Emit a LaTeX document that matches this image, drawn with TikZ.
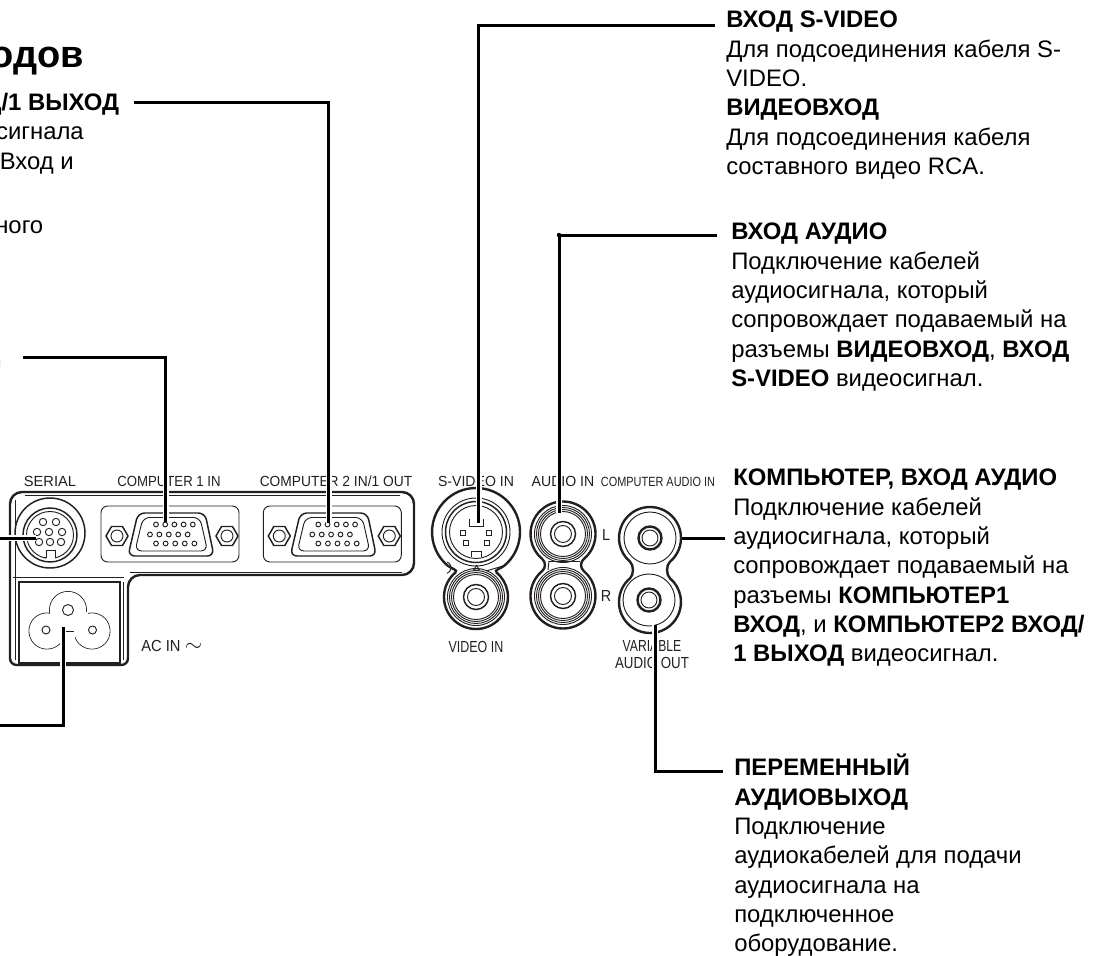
\documentclass[tikz,border=0pt]{standalone}
\usepackage{fontspec}
\setmainfont{Liberation Sans}
\definecolor{ink}{HTML}{231F20}
\tikzset{
  conn/.style={line width=2.25pt,black,preaction={draw=white,line width=4.5pt}},
  body/.style={anchor=north west,inner sep=0pt,align=left,font=\fontsize{17.9}{22}\selectfont},
  cut/.style={anchor=base east,inner sep=0pt,font=\fontsize{17.9}{22}\selectfont},
  lbl/.style={anchor=base,inner sep=0pt,text=ink,font=\fontsize{11}{12}\selectfont},
  big/.style={anchor=base,inner sep=0pt,text=ink,font=\fontsize{12}{12}\selectfont},
  thin/.style={line width=0.7pt,ink},
  med/.style={line width=1.1pt,ink},
  heavy/.style={line width=1.8pt,ink}
}
% x, y1, r1, y2, r2, k : two joined round lobes
\newcommand{\blob}[6]{%
  \draw[heavy] ({#1+#3*.643},{#2+#3*.766}) arc[start angle=50,end angle=-230,radius=#3]
   .. controls ({#1-#3*.643+#6*.766},{#2+#3*.766+#6*.643}) and ({#1-#5*.643+#6*.766},{#4-#5*.766-#6*.643}) ..
   ({#1-#5*.643},{#4-#5*.766}) arc[start angle=230,end angle=-50,radius=#5]
   .. controls ({#1+#5*.643-#6*.766},{#4-#5*.766-#6*.643}) and ({#1+#3*.643-#6*.766},{#2+#3*.766+#6*.643}) ..
   cycle;}
\newcommand{\rca}[2]{%
  \foreach \r in {28.5,26.5,24.5,22.5} \draw[thin] (#1,#2) circle[radius=\r];
  \draw[med] (#1,#2) circle[radius=12.5];
  \draw[thin] (#1,#2) circle[radius=8.5];}
\newcommand{\mini}[2]{%
  \draw[thin] (#1,#2) circle[radius=26];
  \draw[heavy] (#1,#2) circle[radius=11.5];
  \draw[thin] (#1,#2) circle[radius=8];}
\begin{document}
\begin{tikzpicture}[x=0.75pt,y=-0.75pt]
\useasboundingbox (0,0) rectangle (1096,956);
\clip (0,0) rectangle (1096,956);

% ---------- device panel
\draw[heavy] (10,640) [rounded corners=5pt] -- (10,665) -- (128,665) [rounded corners=9pt] -- (128,575)
  -- (414,575) -- (414,492) -- (10,492) -- (10,640);
\draw[thin] (15,500) -- (15,660);
\draw[thin] (123,582) -- (123,660);
\draw[thin] (13,577) -- (124,577);
\draw[heavy] (19,582) -- (120,582) -- (120,663) -- (19,663) -- cycle;
\draw[thin] (130,572) -- (402,572);
\draw[thin] (25,495) -- (400,495);

% serial
\draw[med] (50,533) circle[radius=35];
\draw[med] (50,535) circle[radius=27];
\draw[thin] (50,535) circle[radius=23.5];
\fill[white] (45.5,550) rectangle (55,560);
\draw[thin] (44,557) -- (46,557) -- (46,550) -- (55,550) -- (55,557) -- (57,557);
\foreach \x/\y in {43/522,56/522,37/532,49/532,62/532,39/542,50/542,61/542}
  \draw[thin] (\x,\y) circle[radius=3.7];

% VGA sockets
\foreach \dx in {0,162.3}{
\begin{scope}[shift={(\dx,0)}]
  \draw[thin,rounded corners=5pt] (101,506) rectangle (239,562);
  \foreach \cx in {117,227}{
    \draw[med] (\cx-11,536) -- (\cx-5.5,526.5) -- (\cx+5.5,526.5) -- (\cx+11,536) -- (\cx+5.5,545.5) -- (\cx-5.5,545.5) -- cycle;
    \draw[thin] (\cx,536) circle[radius=6];
  }
  \draw[med,rounded corners=5pt] (138,513) -- (205,513) -- (214,556) -- (128,556) -- cycle;
  \draw[thin,rounded corners=5pt] (143,517.5) -- (200,517.5) -- (207.5,551) -- (135,551) -- cycle;
  \foreach \i in {0,...,4}{
    \draw[thin] (156+9.2*\i,524.5) circle[radius=2.4];
    \draw[thin] (150+9.4*\i,534.5) circle[radius=2.4];
    \draw[thin] (156+9.6*\i,543.5) circle[radius=2.4];
  }
\end{scope}}

% AC inlet
\draw[thin] (47,631) circle[radius=18];
\draw[thin] (68,610) circle[radius=18.5];
\draw[thin] (92,631) circle[radius=18];
\fill[white] (47,631) circle[radius=17.6];
\fill[white] (68,610) circle[radius=18.1];
\fill[white] (92,631) circle[radius=17.6];
\fill[white] (52,612) rectangle (88,630.7);
\fill[white] (64.5,631) rectangle (74.5,651);
\draw[thin] (65,631) -- (74,631);
\draw[thin] (68,610) circle[radius=5.5];
\draw[thin] (46,630) circle[radius=4];
\draw[thin] (92.5,630) circle[radius=4];

% S-video / video
\blob{476}{532}{44}{597}{32}{4}
\draw[thin] (476,532) circle[radius=34];
\draw[med] (476,532) circle[radius=30.5];
\draw[thin] (476,532) circle[radius=26.5];
\draw[thin] (469.5,519) -- (469.5,526) -- (483.5,526) -- (483.5,519);
\draw[thin] (471.5,557) -- (471.5,551) -- (481.5,551) -- (481.5,557);
\foreach \x/\y in {463/533,489/533,466/543,487/543}
  \draw[thin] (\x-2.5,\y-2.5) rectangle (\x+2.5,\y+2.5);
\draw[thin] (473.5,570) -- (476.5,565.5) -- (479.5,570) -- cycle;
\draw[thin] (447,562) arc[start angle=-70,end angle=70,radius=6];
\draw[thin] (486,571) -- (503,566);
\rca{476}{597}

% audio L/R
\blob{563}{534}{32.5}{596}{32.5}{5}
\rca{563}{534}
\rca{563}{596}
\draw[thin] (549,561) -- (548,570);
\draw[thin] (549,561.5) -- (580,561.5);

% computer audio / variable out
\blob{650}{538}{31}{602}{31}{5}
\mini{650}{538}
\mini{649}{600}

% ---------- device labels
\node[lbl] (lserial) at (50,486) {SERIAL};
\node[lbl] (lcomp1) at (169,486) {\scalebox{.9}[1]{COMPUTER 1 IN}};
\node[lbl] (lcomp2) at (336,486) {\scalebox{.94}[1]{COMPUTER 2 IN/1 OUT}};
\node[lbl] (lsvid) at (476,486) {\scalebox{.96}[1]{S-VIDEO IN}};
\node[lbl] (laudio) at (563,486) {\scalebox{.96}[1]{AUDIO IN}};
\node[lbl] (lcaudio) at (658,486) {\fontsize{10}{12}\selectfont\scalebox{.82}[1]{COMPUTER AUDIO IN}};
\node[big] (lL) at (606,540) {\scalebox{.9}[1]{L}};
\node[big] (lR) at (606,601) {\scalebox{.9}[1]{R}};
\node[big] (lvid) at (476,652) {\scalebox{.78}[1]{VIDEO IN}};
\node[big] (lvar) at (652,651) {\scalebox{.76}[1]{VARIABLE}};
\node[big] (lout) at (652,668) {\scalebox{.83}[1]{AUDIO OUT}};
\node[big,anchor=base west] (lac) at (141,651) {\scalebox{.92}[1]{AC IN} \scalebox{1.4}{$\sim$}};

% ---------- texts
\node[inner sep=0pt,anchor=base east,font=\fontsize{28.5}{30}\selectfont\bfseries] (title) at (84,68) {одов};
\node[cut] (t1) at (119.5,110) {\textbf{Д/1 ВЫХОД}};
\node[cut] (t2) at (84,139) {сигнала};
\node[cut] (t3) at (74,169) {Вход и};
\node[cut] (t4) at (43.5,233) {ного};
\node[cut] (t5) at (1,362) {\textbf{Д}};

\node[body] (bsv) at (726,7) {\strut\textbf{ВХОД S-VIDEO}\\Для подсоединения кабеля S-\\VIDEO.\\\textbf{ВИДЕОВХОД}\\Для подсоединения кабеля\\составного видео RCA.};
\node[body] (bai) at (731,219) {\strut\textbf{ВХОД АУДИО}\\Подключение кабелей\\аудиосигнала, который\\сопровождает подаваемый на\\разъемы \textbf{ВИДЕОВХОД}, \textbf{ВХОД}\\\textbf{S-VIDEO} видеосигнал.};
\node[body] (bca) at (733,465) {\strut\textbf{КОМПЬЮТЕР, ВХОД АУДИО}\\Подключение кабелей\\аудиосигнала, который\\сопровождает подаваемый на\\разъемы \textbf{КОМПЬЮТЕР1}\\\textbf{ВХОД}, и \textbf{КОМПЬЮТЕР2 ВХОД/}\\\textbf{1 ВЫХОД} видеосигнал.};
\node[body] (bvo) at (734,754) {\strut\textbf{ПЕРЕМЕННЫЙ}\\\textbf{АУДИОВЫХОД}\\Подключение\\аудиокабелей для подачи\\аудиосигнала на\\подключенное\\оборудование.};

% ---------- connector ends
\coordinate (e2) at (134,103);   \coordinate (p2) at (328.5,523);
\coordinate (e1) at (23,357);    \coordinate (p1) at (165.5,522);
\coordinate (e0) at (0,538);     \coordinate (p0) at (36,538);
\coordinate (ea) at (0,725.5);   \coordinate (pa) at (63,627);
\coordinate (es) at (715,25.5);  \coordinate (ps) at (478.5,523);
\coordinate (eu) at (717,235);   \coordinate (pu) at (559,513);
\coordinate (ec) at (725,538);   \coordinate (pc) at (682,538);
\coordinate (ev) at (723,771.5); \coordinate (pv) at (655,625);

\draw[conn] (e2) -| (p2);
\draw[conn] (e1) -| (p1);
\draw[conn] (e0) -- (p0);
\draw[conn] (ea) -| (pa);
\draw[conn] (es) -| (ps);
\draw[conn] (eu) -| (pu);
\draw[conn] (ec) -- (pc);
\draw[conn] (ev) -| (pv);
\fill[black] (eu -| pu) circle[radius=2.2];
\end{tikzpicture}
\end{document}
